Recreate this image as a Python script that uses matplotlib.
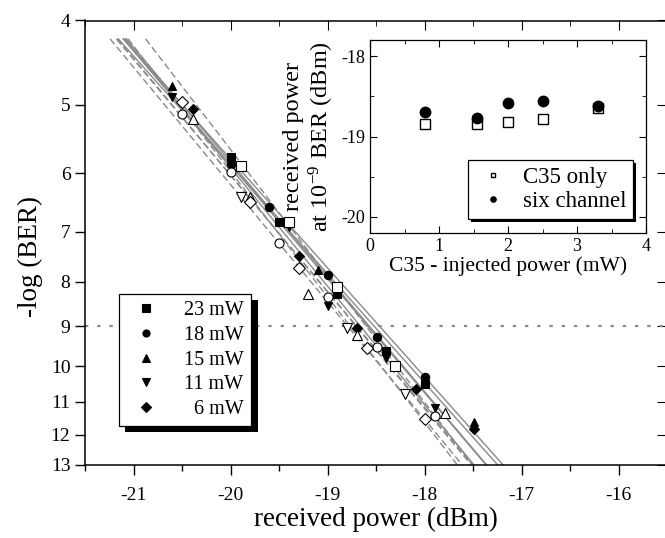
import numpy as np
import matplotlib
matplotlib.use("Agg")
import matplotlib.pyplot as plt
import matplotlib.patheffects as pe
from matplotlib.ticker import MultipleLocator, FixedLocator, NullLocator, FixedFormatter

plt.rcParams['font.family'] = ['Liberation Serif', 'DejaVu Serif']
plt.rcParams['mathtext.fontset'] = 'stix'
plt.rcParams['axes.unicode_minus'] = False

# ---------------- data (main plot) ----------------
labels = ['23 mW', '18 mW', '15 mW', '11 mW', '  6 mW']
markers = ['s', 'o', '^', 'v', 'D']

sq_six_x = [-20.00, -19.50, -18.90, -18.40, -17.99]
sq_six_y = [5.75, 6.82, 8.25, 9.61, 10.49]
sq_c35_x = [-19.89, -19.40, -18.90, -18.30]
sq_c35_y = [5.89, 6.82, 8.11, 10.00]

ci_six_x = [-20.00, -19.60, -19.00, -18.49, -17.99]
ci_six_y = [5.85, 6.56, 7.86, 9.27, 10.29]
ci_c35_x = [-20.50, -20.00, -19.50, -19.00, -18.49, -17.89]
ci_c35_y = [5.12, 5.97, 7.21, 8.33, 9.50, 11.42]

tu_six_x = [-20.60, -20.00, -19.10, -17.99, -17.49]
tu_six_y = [4.76, 5.80, 7.75, 10.40, 11.60]
tu_c35_x = [-20.39, -19.80, -19.20, -18.70, -17.79]
tu_c35_y = [5.19, 6.38, 8.25, 9.21, 11.32]

td_six_x = [-20.60, -19.40, -19.00, -18.40, -17.89]
td_six_y = [4.90, 6.91, 8.52, 9.80, 11.19]
td_c35_x = [-19.89, -18.80, -18.20]
td_c35_y = [6.38, 9.04, 10.77]

di_six_x = [-20.39, -19.29, -18.70, -18.09, -17.49]
di_six_y = [5.06, 7.47, 9.04, 10.64, 11.83]
di_c35_x = [-20.50, -19.80, -19.29, -18.59, -17.99]
di_c35_y = [4.96, 6.47, 7.71, 9.52, 11.50]

ber_threshold = 9

x_ticks = [-21, -20, -19, -18, -17, -16]
y_ticks = [4, 5, 6, 7, 8, 9, 10, 11, 12, 13]

# ---------------- data (inset) ----------------
inj_power = [0.8, 1.55, 2.0, 2.5, 3.3]
c35_only = [-18.85, -18.85, -18.82, -18.78, -18.65]
six_channel = [-18.70, -18.77, -18.58, -18.56, -18.62]

six_sets = [(sq_six_x, sq_six_y), (ci_six_x, ci_six_y), (tu_six_x, tu_six_y),
            (td_six_x, td_six_y), (di_six_x, di_six_y)]
c35_sets = [(sq_c35_x, sq_c35_y), (ci_c35_x, ci_c35_y), (tu_c35_x, tu_c35_y),
            (td_c35_x, td_c35_y), (di_c35_x, di_c35_y)]

fig = plt.figure(figsize=(6.65, 5.38), dpi=100)
ax = fig.add_axes([85/665, 1 - 465/538, 582/665, (465 - 20.5)/538])

ax.set_yscale('log')
ax.set_xlim(-21.5, -15.5)
ax.set_ylim(13, 4)

# fit lines
gray = '#8a8a8a'
for sets, ls in ((six_sets, '-'), (c35_sets, (0, (5, 2.5)))):
    for xs, ys in sets:
        b, a = np.polyfit(np.log10(ys), xs, 1)
        ly = np.log10(np.array([4.2, 14.0]))
        lx = a + b * ly
        ax.plot(lx, 10**ly, color=gray, lw=1.0, ls=ls, zorder=2)

ax.axhline(ber_threshold, color=gray, lw=1.6, ls=(0, (1.5, 4)), zorder=1)

handles = []
for (xs, ys), m, lab in zip(six_sets, markers, labels):
    ms = 6 if m != 'D' else 5.5
    h, = ax.plot(xs, ys, ls='none', marker=m, ms=ms, mfc='black', mec='black',
                 mew=0.8, zorder=4, label=lab)
    handles.append(h)
for (xs, ys), m in zip(c35_sets, markers):
    ms = 6.5 if m != 'D' else 6
    ax.plot(xs, ys, ls='none', marker=m, ms=ms, mfc='white', mec='black',
            mew=0.8, zorder=4)

ax.xaxis.set_major_locator(FixedLocator(x_ticks))
ax.xaxis.set_minor_locator(MultipleLocator(0.5))
ax.yaxis.set_major_locator(FixedLocator(y_ticks))
ax.yaxis.set_major_formatter(FixedFormatter([str(v) for v in y_ticks]))
ax.yaxis.set_minor_locator(NullLocator())
ax.tick_params(axis='both', which='major', direction='out', length=7, width=1,
               labelsize=14, top=False, right=False)
ax.tick_params(axis='x', which='minor', direction='out', length=4, width=1)
ax.tick_params(axis='x', which='major', pad=9)

secx = ax.secondary_xaxis('top')
secx.xaxis.set_major_locator(FixedLocator(x_ticks))
secx.xaxis.set_minor_locator(MultipleLocator(0.5))
secx.tick_params(which='major', direction='in', length=7, labeltop=False)
secx.tick_params(which='minor', direction='in', length=4)
secx.spines['top'].set_visible(False)
secy = ax.secondary_yaxis('right')
secy.set_yscale('log')
secy.yaxis.set_major_locator(FixedLocator(y_ticks))
secy.yaxis.set_minor_locator(NullLocator())
secy.tick_params(which='major', direction='in', length=7, labelright=False)
secy.spines['right'].set_visible(False)

for s in ax.spines.values():
    s.set_linewidth(1.1)

ax.set_xlabel('received power (dBm)', fontsize=19.5, labelpad=2)
ax.set_ylabel('-log (BER)', fontsize=19.5)
ax.yaxis.set_label_coords(-0.072, 0.47)

leg = ax.legend(handles=handles, loc='upper left',
                bbox_to_anchor=(119/665, 1 - 294/538), bbox_transform=fig.transFigure,
                fontsize=14.5, fancybox=False, framealpha=1, edgecolor='black',
                markerscale=0.85, handlelength=2.0, handletextpad=0.9,
                labelspacing=0.28, borderpad=0.35, borderaxespad=0)
leg.get_frame().set_linewidth(0.9)
leg.get_frame().set_path_effects([pe.SimplePatchShadow(offset=(4.5, -4.5), shadow_rgbFace='black', alpha=1.0), pe.Normal()])
for t in leg.get_texts():
    t.set_ha('right')
leg.set_zorder(6)

# ---------------- inset ----------------
ins = fig.add_axes([370/665, 1 - 233/538, 276/665, 193/538])
ins.plot(inj_power, c35_only, ls='none', marker='s', ms=7, mfc='white', mec='black',
         mew=1.0, label='C35 only', zorder=3)
ins.plot(inj_power, six_channel, ls='none', marker='o', ms=7.5, mfc='black', mec='black',
         label='six channel', zorder=4)
ins.set_xlim(0, 4)
ins.set_ylim(-20.2, -17.8)
ins.xaxis.set_major_locator(MultipleLocator(1))
ins.xaxis.set_minor_locator(MultipleLocator(0.5))
ins.yaxis.set_major_locator(FixedLocator([-20, -19, -18]))
ins.yaxis.set_minor_locator(MultipleLocator(0.5))
ins.tick_params(which='both', direction='in', top=True, right=True, labelsize=13)
ins.tick_params(which='major', length=5)
ins.tick_params(which='minor', length=3)
for s in ins.spines.values():
    s.set_linewidth(0.9)
ins.set_xlabel('C35 - injected power (mW)', fontsize=15.5, labelpad=1)
ins.set_ylabel('received power\nat 10$^{\\mathregular{-9}}$ BER (dBm)', fontsize=17.5,
               labelpad=4, linespacing=1.12)
ileg = ins.legend(loc='lower right', bbox_to_anchor=(633/665, 1 - 219/538),
                  bbox_transform=fig.transFigure, fontsize=16.5, fancybox=False,
                  framealpha=1, edgecolor='black', markerscale=0.5, handlelength=1.6,
                  handletextpad=0.5, labelspacing=0.15, borderpad=0.3, borderaxespad=0)
ileg.get_frame().set_linewidth(0.9)
ileg.get_frame().set_path_effects([pe.SimplePatchShadow(offset=(2.5, -2.5), shadow_rgbFace='black', alpha=1.0), pe.Normal()])

fig.savefig('out.png', dpi=100)
